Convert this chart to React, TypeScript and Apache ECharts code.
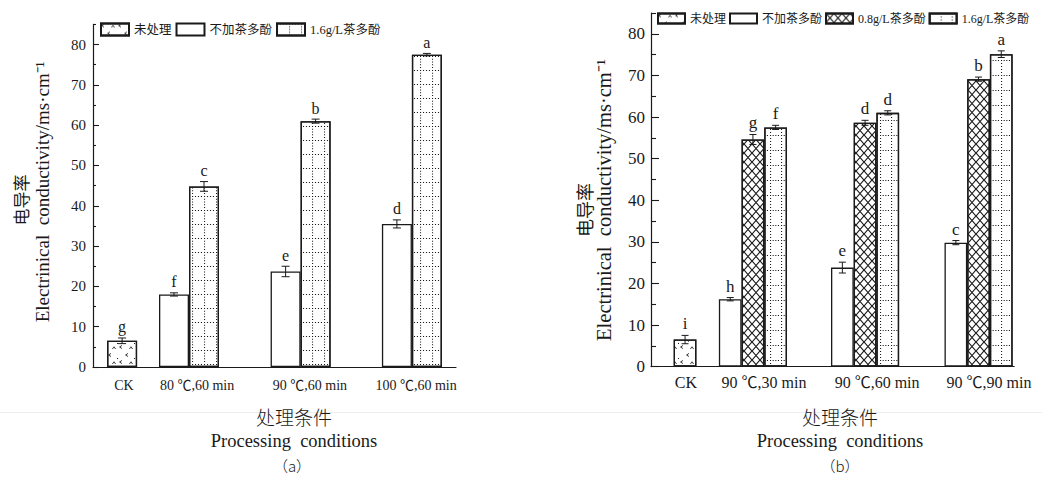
import React, { useEffect, useRef } from 'react';
import * as echarts from 'echarts';

const FONT = '"Liberation Serif", "Noto Sans CJK SC", serif';
const CJK = '"Noto Sans CJK SC", "Liberation Serif", sans-serif';
const INK = '#1a1a1a';

// ---------- Panel (a) data ----------
const seriesNamesA = ['未处理', '不加茶多酚', '1.6g/L茶多酚'];
const categoriesA = ['CK', '80 ℃,60 min', '90 ℃,60 min', '100 ℃,60 min'];
const groupPosA = [0.97, 3.2, 6.92, 10.63];
const labelPosA = [1.03, 3.47, 7.23, 10.77];
const untreatedA = [6.5, null, null, null];
const noTeaA = [null, 18.0, 23.7, 35.5];
const tea16A = [null, 44.8, 61.0, 77.5];
const untreatedErrA = [0.7, null, null, null];
const noTeaErrA = [null, 0.4, 1.3, 1.0];
const tea16ErrA = [null, 1.2, 0.5, 0.3];
const untreatedLetterA = ['g', null, null, null];
const noTeaLetterA = [null, 'f', 'e', 'd'];
const tea16LetterA = [null, 'c', 'b', 'a'];

// ---------- Panel (b) data ----------
const seriesNamesB = ['未处理', '不加茶多酚', '0.8g/L茶多酚', '1.6g/L茶多酚'];
const categoriesB = ['CK', '90 ℃,30 min', '90 ℃,60 min', '90 ℃,90 min'];
const groupPosB = [1.5, 4.49, 9.43, 14.43];
const labelPosB = [1.54, 4.98, 9.96, 14.89];
const untreatedB = [6.5, null, null, null];
const noTeaB = [null, 16.2, 23.8, 29.8];
const tea08B = [null, 54.6, 58.6, 69.1];
const tea16B = [null, 57.5, 61.0, 75.1];
const untreatedErrB = [1.0, null, null, null];
const noTeaErrB = [null, 0.4, 1.3, 0.5];
const tea08ErrB = [null, 1.2, 0.6, 0.5];
const tea16ErrB = [null, 0.5, 0.5, 0.8];
const untreatedLetterB = ['i', null, null, null];
const noTeaLetterB = [null, 'h', 'e', 'c'];
const tea08LetterB = [null, 'g', 'd', 'b'];
const tea16LetterB = [null, 'f', 'd', 'a'];

// ---------- Axis ticks ----------
const yMin = 0;
const yMax = 85;
const yMajorTicks = [0, 10, 20, 30, 40, 50, 60, 70, 80];
const yMinorTicks = [5, 15, 25, 35, 45, 55, 65, 75, 85];

// ---------- Patterns (styles) ----------
function sq(x: number, y: number, d: number) {
  return `M${x},${y}L${x + d},${y}L${x + d},${y + d}L${x},${y + d}Z`;
}
function dotGridPath(w: number, h: number, nx: number, ny: number, d: number) {
  let p = '';
  const sx = (w - d) / (nx - 1);
  const sy = (h - d) / (ny - 1);
  for (let i = 0; i < nx; i++) p += sq(i * sx, 0, d);
  for (let j = 1; j < ny; j++) p += sq(0, j * sy, d);
  return 'path://' + p;
}
function crossPath(w: number, h: number, t: number) {
  return (
    'path://' +
    `M0,0L${t},0L${w},${h - t}L${w},${h}L${w - t},${h}L0,${t}Z` +
    `M${w},0L${w},${t}L${t},${h}L0,${h}L0,${h - t}L${w - t},0Z`
  );
}
const chevronPath =
  'path://' +
  'M3,0L0,2L3,4L3,3.2L1.5,2L3,0.8Z' +
  'M10,4L12,1.2L14,4L13.2,4L12,2.4L10.8,4Z' +
  'M9,8L6,10L9,12L9,11.2L7.5,10L9,8.8Z' +
  'M15,12.9L16,12.9L16,14L15,14Z';

const decalUntreated = {
  symbol: chevronPath,
  symbolSize: 1,
  symbolKeepAspect: false,
  dashArrayX: [16, 1],
  dashArrayY: [14, 1],
  color: INK,
};
const decalDotsA = {
  symbol: dotGridPath(10, 12, 4, 5, 1.1),
  symbolSize: 1,
  symbolKeepAspect: false,
  dashArrayX: [10, 2],
  dashArrayY: [12, 2],
  color: INK,
};
const decalDotsB = {
  symbol: dotGridPath(9, 13, 4, 5, 1.1),
  symbolSize: 1,
  symbolKeepAspect: false,
  dashArrayX: [9, 2],
  dashArrayY: [13, 2],
  color: INK,
};
const decalCross = {
  symbol: crossPath(8, 9, 0.8),
  symbolSize: 1,
  symbolKeepAspect: false,
  dashArrayX: [8, 0],
  dashArrayY: [9, 0],
  color: INK,
};

type PanelCfg = {
  key: string;
  names: string[];
  categories: string[];
  groupPos: number[];
  labelPos: number[];
  values: (number | null)[][];
  errs: (number | null)[][];
  letters: (string | null)[][];
  decals: any[];
  grid: { left: number; top: number; height: number };
  slotPx: number;
  xMax: number;
  cap: number;
  tickFont: number;
  xLabelFont: number;
  xLabelMargin: number;
  yLabelMargin: number;
  majorLen: number;
  minorLen: number;
  letterFont: number;
  legend: { left: number; top: number; itemHeight: number; itemWidth: number; gap: number; font: number };
};

const panelA: PanelCfg = {
  key: 'a',
  names: seriesNamesA,
  categories: categoriesA,
  groupPos: groupPosA,
  labelPos: labelPosA,
  values: [untreatedA, noTeaA, tea16A],
  errs: [untreatedErrA, noTeaErrA, tea16ErrA],
  letters: [untreatedLetterA, noTeaLetterA, tea16LetterA],
  decals: [decalUntreated, null, decalDotsA],
  grid: { left: 93, top: 24.4, height: 342.6 },
  slotPx: 30,
  xMax: 12.1,
  cap: 4,
  tickFont: 15,
  xLabelFont: 14,
  xLabelMargin: 11,
  yLabelMargin: 7,
  majorLen: 6,
  minorLen: 3,
  letterFont: 16,
  legend: { left: 100, top: 22.5, itemHeight: 12, itemWidth: 28, gap: 4, font: 12.5 },
};

const panelB: PanelCfg = {
  key: 'b',
  names: seriesNamesB,
  categories: categoriesB,
  groupPos: groupPosB,
  labelPos: labelPosB,
  values: [untreatedB, noTeaB, tea08B, tea16B],
  errs: [untreatedErrB, noTeaErrB, tea08ErrB, tea16ErrB],
  letters: [untreatedLetterB, noTeaLetterB, tea08LetterB, tea16LetterB],
  decals: [decalUntreated, null, decalCross, decalDotsB],
  grid: { left: 651, top: 13, height: 353.6 },
  slotPx: 22.7,
  xMax: 16,
  cap: 3.5,
  tickFont: 17,
  xLabelFont: 16,
  xLabelMargin: 8,
  yLabelMargin: 6,
  majorLen: 8,
  minorLen: 5,
  letterFont: 17,
  legend: { left: 657, top: 12.5, itemHeight: 10, itemWidth: 27, gap: 3, font: 12 },
};

function buildPanel(p: PanelCfg, gi: number) {
  const xAxisIndex = gi;
  const yAxisIndex = gi * 2;
  const bars: any[] = p.names.map((n, s) => ({
    type: 'bar',
    name: p.key + '|' + n,
    xAxisIndex,
    yAxisIndex,
    barWidth: p.slotPx,
    barGap: '-100%',
    data: [] as any[],
    itemStyle: {
      color: '#ffffff',
      borderColor: INK,
      borderWidth: 1.3,
      ...(p.decals[s] ? { decal: p.decals[s] } : {}),
    },
    emphasis: { disabled: true },
    silent: true,
  }));
  const errData: number[][] = [];
  const letters: string[] = [];
  p.categories.forEach((_c, i) => {
    const present = p.values
      .map((v, s) => (v[i] != null ? s : -1))
      .filter((s) => s >= 0);
    present.forEach((s, k) => {
      const x = p.groupPos[i] + k - (present.length - 1) / 2;
      const v = p.values[s][i] as number;
      bars[s].data.push([x, v]);
      errData.push([x, v, (p.errs[s][i] as number) || 0]);
      letters.push(p.letters[s][i] || '');
    });
  });
  const err = {
    type: 'custom',
    xAxisIndex,
    yAxisIndex,
    silent: true,
    z: 5,
    data: errData,
    renderItem: (params: any, api: any) => {
      const x = api.value(0);
      const y = api.value(1);
      const e = api.value(2);
      const t = api.coord([x, y + e]);
      const b = api.coord([x, y - e]);
      const st = { stroke: INK, lineWidth: 1 };
      return {
        type: 'group',
        children: [
          { type: 'line', shape: { x1: t[0], y1: t[1], x2: b[0], y2: b[1] }, style: st },
          { type: 'line', shape: { x1: t[0] - p.cap, y1: t[1], x2: t[0] + p.cap, y2: t[1] }, style: st },
          { type: 'line', shape: { x1: b[0] - p.cap, y1: b[1], x2: b[0] + p.cap, y2: b[1] }, style: st },
          {
            type: 'text',
            x: t[0],
            y: t[1] - 3,
            style: {
              text: letters[params.dataIndex],
              fontSize: p.letterFont,
              fontFamily: FONT,
              fill: INK,
              align: 'center',
              verticalAlign: 'bottom',
              textAlign: 'center',
              textVerticalAlign: 'bottom',
            },
          },
        ],
      };
    },
  };

  const axisLine = { show: true, onZero: false, lineStyle: { color: INK, width: 1.2 } };
  const grid = {
    left: p.grid.left,
    top: p.grid.top,
    width: p.slotPx * p.xMax,
    height: p.grid.height,
    containLabel: false,
  };
  const xAxis = {
    gridIndex: gi,
    type: 'value',
    min: 0,
    max: p.xMax,
    axisLine,
    axisTick: { show: false },
    splitLine: { show: false },
    axisLabel: {
      customValues: p.labelPos,
      formatter: (v: number) => {
        const idx = p.labelPos.findIndex((q) => Math.abs(q - v) < 1e-6);
        return idx >= 0 ? p.categories[idx] : '';
      },
      fontSize: p.xLabelFont,
      fontFamily: FONT,
      color: INK,
      margin: p.xLabelMargin,
      hideOverlap: false,
    },
  };
  const yMain = {
    gridIndex: gi,
    type: 'value',
    min: yMin,
    max: yMax,
    interval: 10,
    axisLine,
    axisTick: {
      show: true,
      inside: true,
      length: p.majorLen,
      customValues: yMajorTicks,
      lineStyle: { color: INK, width: 1.1 },
    },
    axisLabel: {
      customValues: yMajorTicks,
      fontSize: p.tickFont,
      fontFamily: FONT,
      color: INK,
      margin: p.yLabelMargin,
    },
    splitLine: { show: false },
  };
  const yMinor = {
    gridIndex: gi,
    type: 'value',
    position: 'left',
    offset: 0,
    min: yMin,
    max: yMax,
    interval: 5,
    axisLine: { show: false },
    axisTick: {
      show: true,
      inside: true,
      length: p.minorLen,
      customValues: yMinorTicks,
      lineStyle: { color: INK, width: 1.1 },
    },
    axisLabel: { show: false },
    splitLine: { show: false },
  };
  const legend = {
    data: p.names.map((n) => p.key + '|' + n),
    formatter: (name: string) => name.slice(2),
    left: p.legend.left,
    top: p.legend.top,
    width: 460,
    orient: 'horizontal',
    padding: 0,
    itemWidth: p.legend.itemWidth,
    itemHeight: p.legend.itemHeight,
    itemGap: p.legend.gap,
    icon: 'rect',
    selectedMode: false,
    textStyle: { fontSize: p.legend.font, fontFamily: FONT, color: INK },
  };
  return { grid, xAxis, yAxes: [yMain, yMinor], series: [...bars, err], legend };
}

function vText(x: number, y: number, text: string, fontSize: number, family: string, weight: any = 'normal') {
  return {
    type: 'text',
    x,
    y,
    rotation: Math.PI / 2,
    silent: true,
    style: {
      text,
      fontSize,
      fontFamily: family,
      fontWeight: weight,
      fill: INK,
      align: 'center',
      verticalAlign: 'middle',
      textAlign: 'center',
      textVerticalAlign: 'middle',
    },
  };
}
function hText(x: number, y: number, text: string, fontSize: number, family: string, weight: any = 'normal') {
  return {
    type: 'text',
    x,
    y,
    silent: true,
    style: {
      text,
      fontSize,
      fontFamily: family,
      fontWeight: weight,
      fill: INK,
      align: 'center',
      verticalAlign: 'middle',
      textAlign: 'center',
      textVerticalAlign: 'middle',
    },
  };
}

function buildOption() {
  const a = buildPanel(panelA, 0);
  const b = buildPanel(panelB, 1);
  return {
    animation: false,
    backgroundColor: '#ffffff',
    textStyle: { fontFamily: FONT, color: INK },
    grid: [a.grid, b.grid],
    xAxis: [a.xAxis, b.xAxis],
    yAxis: [...a.yAxes, ...b.yAxes],
    legend: [a.legend, b.legend],
    series: [...a.series, ...b.series],
    graphic: [
      { type: 'rect', silent: true, z: -10, shape: { x: 0, y: 412, width: 1042, height: 1 }, style: { fill: '#eeeeee' } },
      vText(20, 200, '电导率', 17, CJK),
      vText(42.5, 192, 'Electrinical  conductivity/ms·cm⁻¹', 19, FONT),
      vText(584, 210, '电导率', 18, CJK),
      vText(604, 200, 'Electrinical  conductivity/ms·cm⁻¹', 20.5, FONT),
      hText(294, 416, '处理条件', 19, CJK, 300),
      hText(294, 441, 'Processing  conditions', 18.5, FONT),
      hText(292, 465, '（a）', 15, CJK, 300),
      hText(840, 416, '处理条件', 19, CJK, 300),
      hText(840, 441, 'Processing  conditions', 18.5, FONT),
      hText(840, 465, '（b）', 15, CJK, 300),
    ],
  };
}

export default function App() {
  const ref = useRef<HTMLDivElement>(null);
  useEffect(() => {
    if (!ref.current) return;
    const chart = echarts.init(ref.current, null, { renderer: 'svg' });
    chart.setOption(buildOption() as any);
    return () => chart.dispose();
  }, []);
  return (
    <div
      ref={ref}
      style={{ position: 'absolute', left: 0, top: 0, width: 1042, height: 478, background: '#fff' }}
    />
  );
}
